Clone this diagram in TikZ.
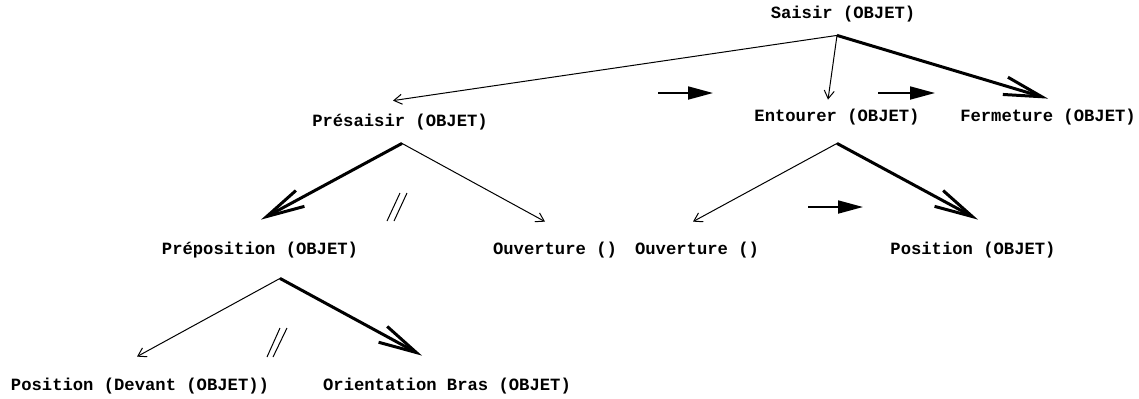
\documentclass[tikz,border=0pt]{standalone}
\usepackage{fontspec}
\setmonofont{Liberation Mono}
\usetikzlibrary{arrows.meta}

\begin{document}
\begin{tikzpicture}[
    x=0.5pt, y=-0.5pt,
    lbl/.style={font=\ttfamily\bfseries\fontsize{8.6}{9}\selectfont, inner xsep=0pt, inner ysep=6.75pt, text height=5pt, text depth=1.5pt},
    sub/.style={line width=0.5pt, -{Straight Barb[length=4pt, width=5pt]}},
    main/.style={line width=1.5pt, -{Straight Barb[length=19pt, width=9pt]}},
    seq/.style={line width=0.9pt, -{Triangle[length=12.5pt, width=6.5pt]}},
    brk/.style={line width=0.5pt}
]
\useasboundingbox (0,0) rectangle (1139,398);

% Nodes
\node[lbl] (saisir) at (843,15) {Saisir (OBJET)};
\node[lbl] (presaisir) at (400,123) {Présaisir (OBJET)};
\node[lbl] (entourer) at (837,118) {Entourer (OBJET)};
\node[lbl] (fermeture) at (1048,118) {Fermeture (OBJET)};
\node[lbl] (preposition) at (260,251) {Préposition (OBJET)};
\node[lbl] (ouvgauche) at (555,251) {Ouverture ()};
\node[lbl] (ouvdroite) at (697,251) {Ouverture ()};
\node[lbl] (position) at (973,251) {Position (OBJET)};
\node[lbl] (posdevant) at (140,387) {Position (Devant (OBJET))};
\node[lbl] (orientation) at (447,387) {Orientation Bras (OBJET)};

% Branching points
\coordinate (saisir-b) at ([shift={(-6,0)}]saisir.south);
\coordinate (presaisir-b) at ([shift={(2,0)}]presaisir.south);
\coordinate (entourer-b) at ([shift={(0,5)}]entourer.south);
\coordinate (preposition-b) at ([shift={(20,7)}]preposition.south);

% Decomposition arrows
\draw[sub] (saisir-b) -- ([shift={(-7,-2)}]presaisir.north);
\draw[sub] (saisir-b) -- ([shift={(-9,2)}]entourer.north);
\draw[main] (saisir-b) -- ([shift={(0,1)}]fermeture.north);
\draw[main] (presaisir-b) -- ([shift={(1,-11)}]preposition.north);
\draw[sub] (presaisir-b) -- ([shift={(-10,-9)}]ouvgauche.north);
\draw[sub] (entourer-b) -- ([shift={(-4,-9)}]ouvdroite.north);
\draw[main] (entourer-b) -- ([shift={(5,-11)}]position.north);
\draw[sub] (preposition-b) -- ([shift={(-3,-10)}]posdevant.north);
\draw[main] (preposition-b) -- ([shift={(-25,-11)}]orientation.north);

% Sequence arrows
\draw[seq] (658,93) -- (713,93);
\draw[seq] (878,93) -- (935,93);
\draw[seq] (808,207) -- (863,207);

% Parallel marks
\draw[brk] (387,221) -- (400,193);
\draw[brk] (394,221) -- (407,193);
\draw[brk] (267,357) -- (280,328);
\draw[brk] (273,357) -- (287,328);

\end{tikzpicture}
\end{document}
